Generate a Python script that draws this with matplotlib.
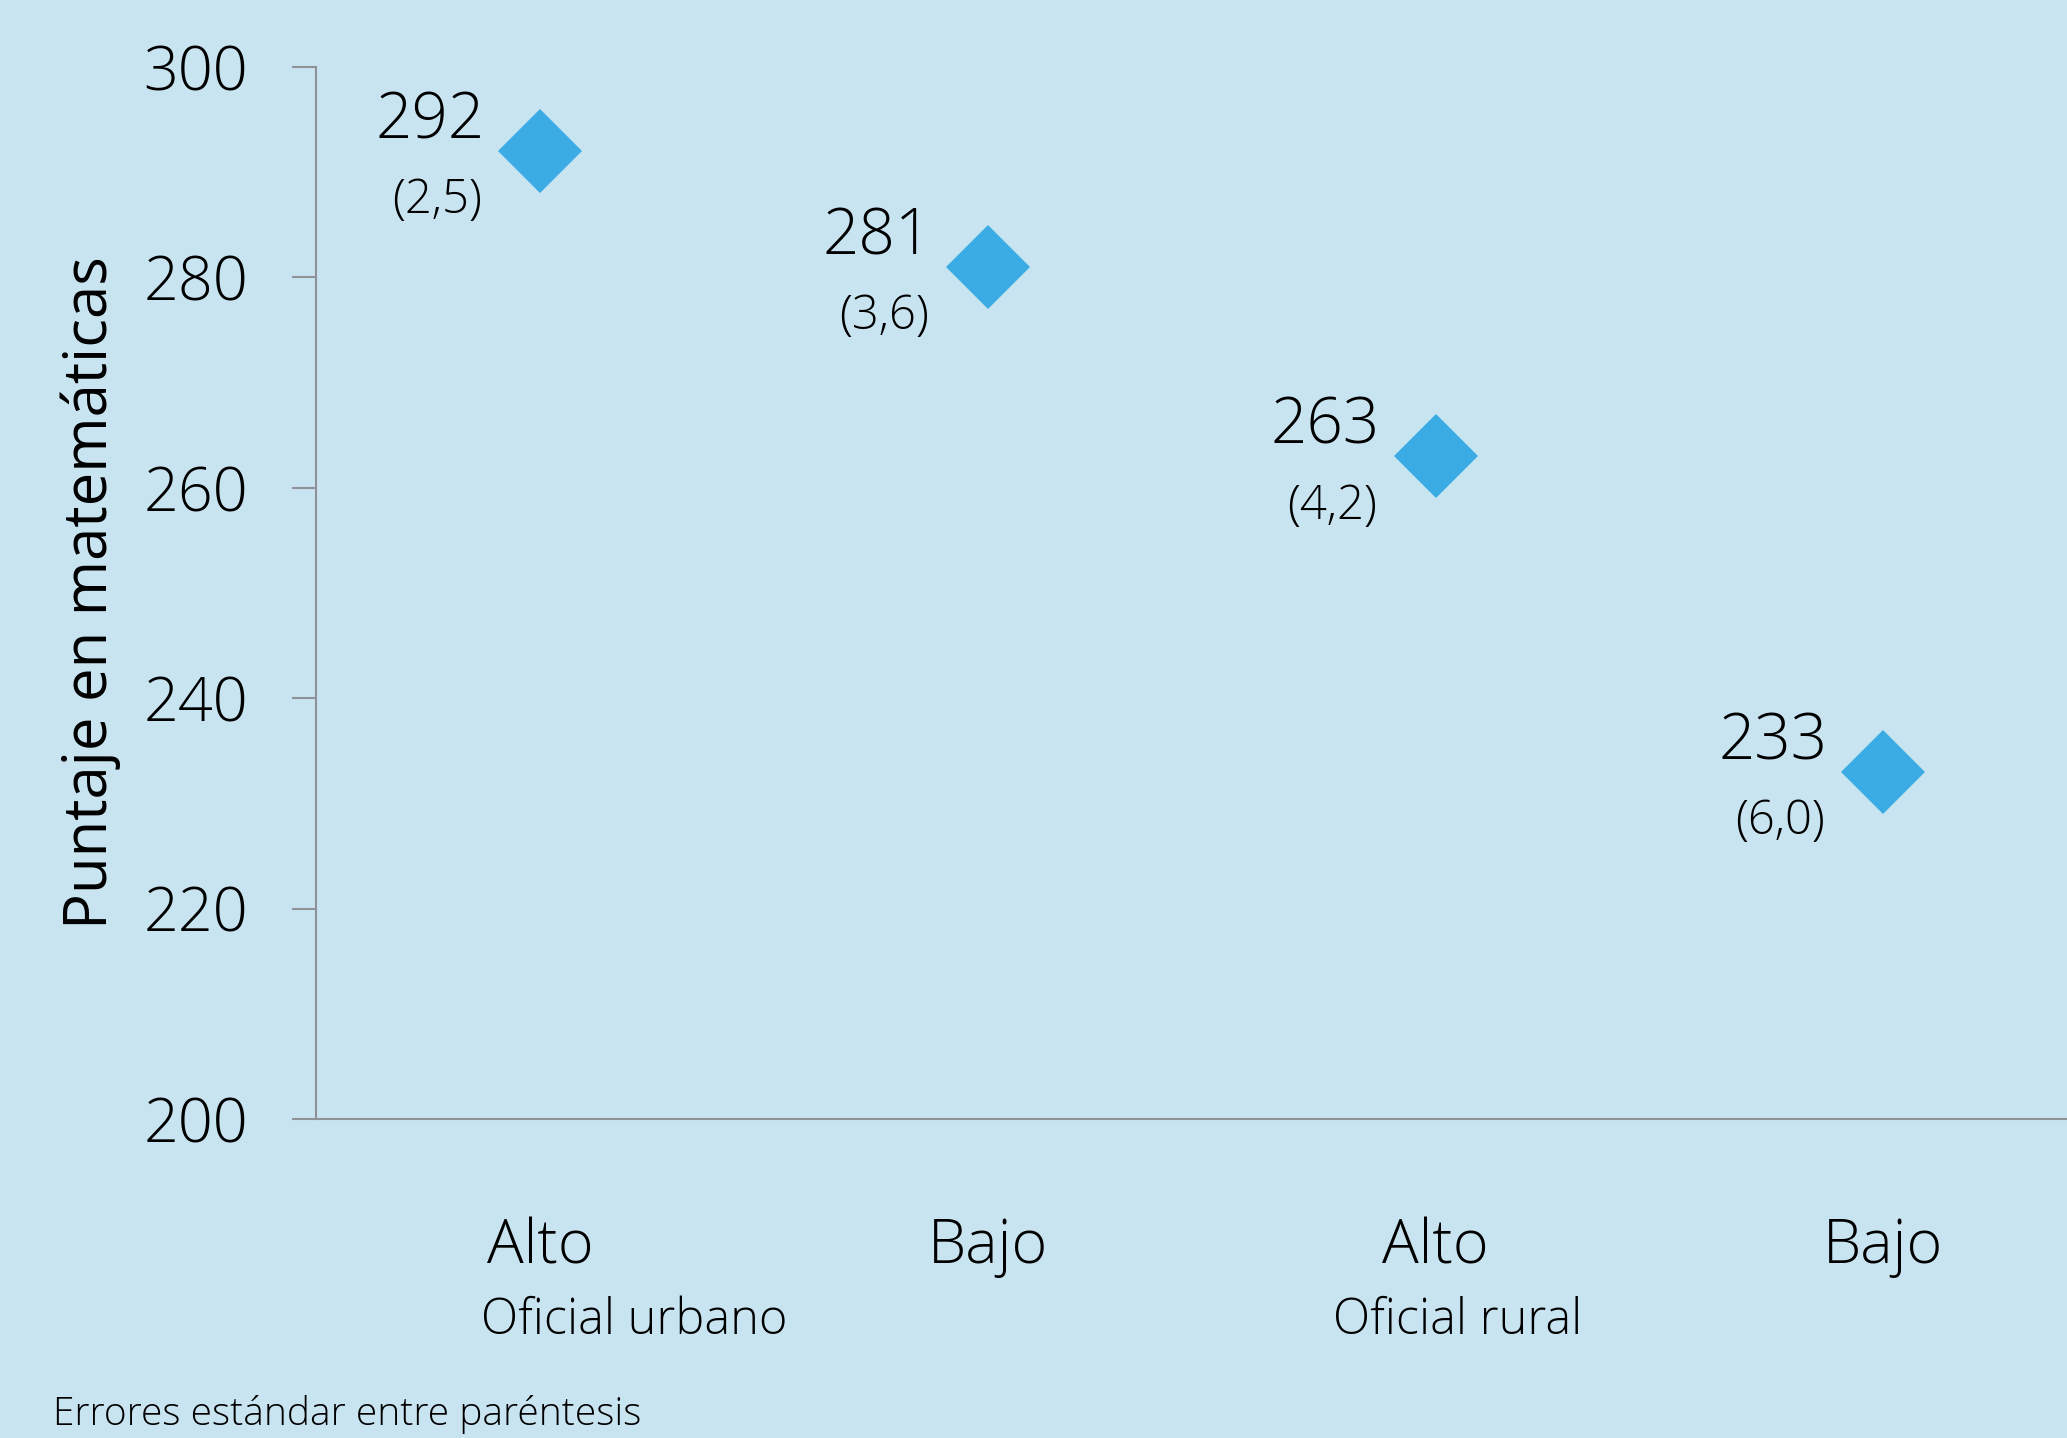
import matplotlib
matplotlib.use("Agg")
import matplotlib.pyplot as plt

# data
niveles = ["Alto", "Bajo", "Alto", "Bajo"]
puntajes = [292, 281, 263, 233]
errores = ["(2,5)", "(3,6)", "(4,2)", "(6,0)"]
grupos = ["Oficial urbano", "Oficial rural"]
grupo_pos = [0.21, 2.05]
yticks = [200, 220, 240, 260, 280, 300]

BG = "#C9E4F1"
BLUE = "#3AABE3"
AXCOL = "#8E9196"

plt.rcParams["font.family"] = ["Open Sans", "DejaVu Sans"]
plt.rcParams["font.weight"] = "light"


def main():
    fig = plt.figure(figsize=(20.67, 14.38), dpi=100, facecolor=BG)
    ax = fig.add_axes([0.1529, 0.2218, 0.8471, 0.7316])
    ax.set_facecolor(BG)

    x = list(range(len(puntajes)))
    ax.plot(x, puntajes, linestyle="none", marker="D", markersize=43,
            color=BLUE, markeredgewidth=0)

    for xi, v, e in zip(x, puntajes, errores):
        ax.annotate(str(v), (xi, v), xytext=(-40, 21), textcoords="offset points",
                    ha="right", va="center", fontsize=46, color="black")
        ax.annotate(e, (xi, v), xytext=(-42, -36), textcoords="offset points",
                    ha="right", va="center", fontsize=34, color="black")

    ax.set_xlim(-0.5, 3.41)
    ax.set_ylim(200, 300)
    ax.set_yticks(yticks)
    ax.set_yticklabels([str(t) for t in yticks], fontsize=44)
    ax.tick_params(axis="y", length=17, width=1.5, color=AXCOL, pad=32)
    ax.set_xticks([])

    for s in ["top", "right"]:
        ax.spines[s].set_visible(False)
    for s in ["left", "bottom"]:
        ax.spines[s].set_color(AXCOL)
        ax.spines[s].set_linewidth(1.5)

    ax.set_ylabel("Puntaje en matemáticas", fontsize=43, labelpad=16)

    trans = ax.get_xaxis_transform()
    for xi, lab in zip(x, niveles):
        ax.text(xi, -0.137, lab, transform=trans, ha="center", va="baseline",
                fontsize=44)
    for gx, g in zip(grupo_pos, grupos):
        ax.text(gx, -0.204, g, transform=trans, ha="center", va="baseline",
                fontsize=35)

    fig.text(0.0256, 0.009, "Errores estándar entre paréntesis", ha="left",
             va="baseline", fontsize=28)

    fig.savefig("out.png", dpi=100, facecolor=BG)


if __name__ == "__main__":
    main()
